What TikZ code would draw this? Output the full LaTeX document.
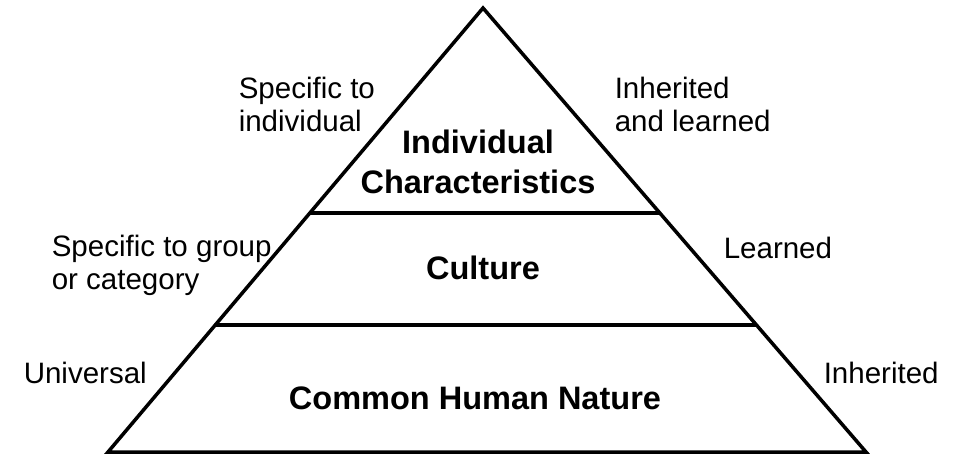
\documentclass[tikz,border=0pt]{standalone}
\usepackage{fontspec}
\setmainfont{Liberation Sans}
\usetikzlibrary{calc}

\begin{document}
\begin{tikzpicture}[x=0.02cm, y=-0.02cm, line width=2pt,
        side/.style={font=\fontsize{16.8}{18.8}\selectfont, align=left, anchor=west, inner sep=0pt},
        layer/.style={font=\fontsize{18.5}{22.7}\selectfont\bfseries, align=center, inner sep=0pt}]
        \useasboundingbox (0,0) rectangle (959,458);

        % outline of the pyramid
        \coordinate (top) at (483,8);
        \coordinate (bl) at (108,452);
        \coordinate (br) at (866,452);
        \draw (top) -- (br) -- (bl) -- cycle;

        % the two dividing lines
        \draw ($(top)!0.462!(bl)$) -- ($(top)!0.462!(br)$);
        \draw ($(top)!0.714!(bl)$) -- ($(top)!0.714!(br)$);

        \node[layer] (indiv) at (478,162) {Individual\\Characteristics};
        \node[layer] (culture) at (483,268) {Culture};
        \node[layer] (nature) at (475,398) {Common Human Nature};

        \node[side] (spec1) at (237,104) {Specific to\\individual};
        \node[side] (inh1) at (613,104) {Inherited\\and learned};
        \node[side] (spec2) at (50,265) {Specific to group\\or category};
        \node[side] (learned) at (722,248) {Learned};
        \node[side] (univ) at (22,373) {Universal};
        \node[side] (inh2) at (822,373) {Inherited};
        \end{tikzpicture}
\end{document}
